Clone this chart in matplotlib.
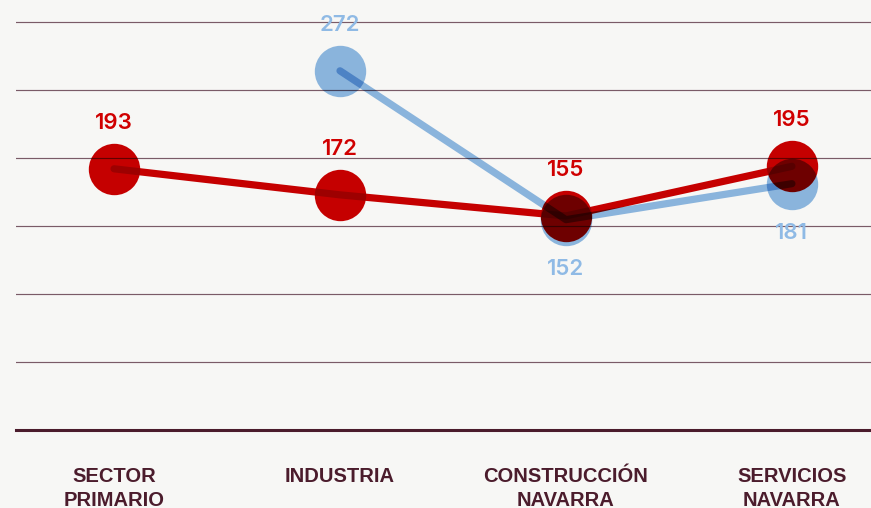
import numpy as np
import matplotlib
matplotlib.use("Agg")
import matplotlib.pyplot as plt

# ---------------- data ----------------
categories = ["SECTOR\nPRIMARIO", "INDUSTRIA", "CONSTRUCCIÓN\nNAVARRA", "SERVICIOS\nNAVARRA"]
red_values = [193, 172, 155, 195]
blue_values = [np.nan, 272, 152, 181]
blue_label_side = ["above", "above", "below", "below"]

# ---------------- style ----------------
BG = "#f7f7f5"
RED = "#cc0000"
BLUE = "#8fbae5"
GRID = "#7e5e6c"
AXIS = "#4b1c2c"
TXT = "#4b1c2c"
Y_MIN, Y_MAX = -17.6, 329.1
GRID_STEP = 54.82


def multiply_blend(artist):
    """Draw the artist with a multiply blend over what is already drawn (Agg only)."""
    orig = artist.draw

    def draw(renderer, *args, **kwargs):
        if not (hasattr(renderer, "start_filter") and hasattr(renderer, "buffer_rgba")) \
                or not artist.get_visible():
            return orig(renderer, *args, **kwargs)
        renderer.start_filter()
        orig(renderer, *args, **kwargs)
        alpha = np.asarray(renderer.buffer_rgba())[..., 3].copy()
        cols = np.nonzero(alpha.any(axis=0))[0]
        rows = np.nonzero(alpha.any(axis=1))[0]
        if len(cols) and len(rows):
            sy = slice(rows[0], rows[-1] + 1)
            sx = slice(cols[0], cols[-1] + 1)
        else:
            sy = sx = slice(0, 0)

        def post(img, dpi):
            base = np.asarray(renderer.buffer_rgba())[sy, sx, :3] / 255.0
            out = img.copy()
            if base.shape[:2] == out.shape[:2]:
                out[..., :3] = img[..., :3] * base
            return out, 0, 0

        renderer.stop_filter(post)

    artist.draw = draw


fig = plt.figure(figsize=(8.71, 5.08), dpi=100, facecolor=BG)
ax = fig.add_axes([16 / 871, 78 / 508, 855 / 871, 430 / 508])
ax.set_facecolor(BG)

x = np.arange(len(categories))
ax.set_xlim(-0.434, 3.35)
ax.set_ylim(Y_MIN, Y_MAX)

# gridlines
ticks = [Y_MIN + k * GRID_STEP for k in range(1, 7)]
ax.set_yticks(ticks)
ax.yaxis.grid(True, color=GRID, linewidth=0.85)
ax.tick_params(axis="y", length=0, labelleft=False)
multiply_blend(ax.yaxis)

for s in ["top", "right", "left"]:
    ax.spines[s].set_visible(False)
ax.spines["bottom"].set_color(AXIS)
ax.spines["bottom"].set_linewidth(2.2)

# series
for vals, col in [(blue_values, BLUE), (red_values, RED)]:
    ln, = ax.plot(x, vals, color=col, lw=5.2, solid_capstyle="round",
                  solid_joinstyle="round", zorder=3)
    mk, = ax.plot(x, vals, ls="none", marker="o", ms=37, mfc=col, mec="none", zorder=4)
    multiply_blend(ln)
    multiply_blend(mk)

lab_font = dict(family=["Inter", "DejaVu Sans"], fontsize=16, fontweight="semibold")
for xi, v in zip(x, red_values):
    ax.annotate(f"{v:.0f}", (xi, v), xytext=(0, 29), textcoords="offset points",
                ha="center", va="baseline", color="#d00000", zorder=6, **lab_font)
for xi, v, side in zip(x, blue_values, blue_label_side):
    if np.isnan(v):
        continue
    dy = 29 if side == "above" else -40
    ax.annotate(f"{v:.0f}", (xi, v), xytext=(0, dy), textcoords="offset points",
                ha="center", va="baseline", color=BLUE, zorder=6, **lab_font)

ax.set_xticks(x)
ax.set_xticklabels(categories, color=TXT, fontsize=14.5, fontweight="bold",
                   family=["Liberation Sans", "DejaVu Sans"], linespacing=1.3)
ax.tick_params(axis="x", length=0, pad=27)

fig.savefig("out.png", dpi=100, facecolor=BG)
